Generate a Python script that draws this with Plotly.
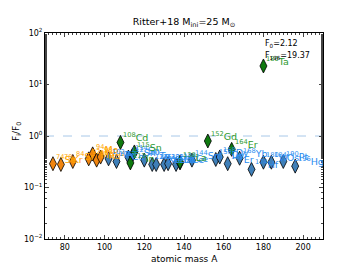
import plotly.graph_objects as go
import math

# orange group
orange_mass = [74, 78, 84, 92, 94, 96, 98]
orange_el = ["Se", "Kr", "Sr", "Mo", "Mo", "Ru", "Ru"]
orange_val = [0.29, 0.28, 0.32, 0.36, 0.45, 0.34, 0.39]

# blue group
blue_mass = [102, 106, 112, 114, 120, 124, 126, 130, 132, 136, 138, 144, 156, 158, 162, 168, 174, 180, 184, 190, 196]
blue_el = ["Pd", "Cd", "Sn", "Sn", "Te", "Xe", "Xe", "Ba", "Ba", "Ce", "Ce", "Sm", "Dy", "Dy", "Er", "Yb", "Hf", "W", "Os", "Pt", "Hg"]
blue_val = [0.36, 0.32, 0.39, 0.42, 0.34, 0.28, 0.28, 0.28, 0.29, 0.28, 0.30, 0.34, 0.35, 0.39, 0.29, 0.37, 0.225, 0.31, 0.31, 0.32, 0.26]

# green group
green_mass = [108, 113, 115, 138, 152, 164, 180]
green_el = ["Cd", "In", "Sn", "La", "Gd", "Er", "Ta"]
green_val = [0.75, 0.30, 0.49, 0.31, 0.80, 0.55, 22.9]

x_ticks = [80, 100, 120, 140, 160, 180, 200]
y_ticks = [0.01, 0.1, 1, 10, 100]
y_ticktext = ["10<sup>−2</sup>", "10<sup>−1</sup>", "10<sup>0</sup>", "10<sup>1</sup>", "10<sup>2</sup>"]

FONT = "DejaVu Sans"

groups = [
    (orange_mass, orange_el, orange_val, "#f0850f", "#ffa500"),
    (blue_mass, blue_el, blue_val, "#3f7fb8", "#2a8cf0"),
    (green_mass, green_el, green_val, "#0f7a0f", "#2e9a2e"),
]

W, H = 359, 269
L, R, T, B = 45, 36, 33, 30
pw, ph = W - L - R, H - T - B

def px(xp):
    return (xp - L) / pw

def py(yp):
    return (H - B - yp) / ph

fig = go.Figure()

fig.add_shape(type="line", xref="paper", x0=0, x1=1, yref="y", y0=1, y1=1,
              line=dict(color="#a8c8e8", width=1, dash="dash"), layer="below")

annotations = []
for mass, el, val, mcol, tcol in groups:
    fig.add_trace(go.Scatter(
        x=mass, y=val, mode="markers",
        marker=dict(symbol="diamond-tall", size=10, color=mcol,
                    line=dict(color="black", width=0.8)),
        showlegend=False, hoverinfo="skip"))
    for m, e, v in zip(mass, el, val):
        annotations.append(dict(
            x=m, y=math.log10(v), xref="x", yref="y",
            text=f"<sup>{m}</sup>{e}", showarrow=False,
            xanchor="left", yanchor="bottom", xshift=2, yshift=-2,
            borderpad=0, font=dict(family=FONT, size=9.5, color=tcol)))

annotations += [
    dict(x=px(263), y=py(44), xref="paper", yref="paper", text="F<sub>0</sub>=2.12",
         showarrow=False, xanchor="left", yanchor="middle",
         font=dict(family=FONT, size=8, color="black")),
    dict(x=px(263), y=py(56), xref="paper", yref="paper", text="F<sub>196</sub>=19.37",
         showarrow=False, xanchor="left", yanchor="middle",
         font=dict(family=FONT, size=8, color="black")),
    dict(x=px(184), y=py(259), xref="paper", yref="paper", text="atomic mass A",
         showarrow=False, xanchor="center", yanchor="middle",
         font=dict(family=FONT, size=9, color="black")),
    dict(x=px(16), y=py(132), xref="paper", yref="paper", text="F<sub>i</sub>/F<sub>0</sub>",
         showarrow=False, xanchor="center", yanchor="middle", textangle=-90,
         font=dict(family=FONT, size=9, color="black")),
]

fig.update_layout(
    width=W, height=H,
    margin=dict(l=L, r=R, t=T, b=B, autoexpand=False),
    paper_bgcolor="white", plot_bgcolor="white",
    font=dict(family=FONT, size=8, color="black"),
    title=dict(text="Ritter+18 M<sub>ini</sub>=25 M<sub>⊙</sub>", x=(L + pw / 2) / W, xanchor="center",
               y=1 - 22 / H, yanchor="middle", font=dict(family=FONT, size=9.5)),
    annotations=annotations,
    xaxis=dict(range=[70, 210], tickvals=x_ticks, ticks="inside", ticklen=4,
               showline=True, linecolor="black", linewidth=1, mirror="ticks",
               showgrid=False, zeroline=False, automargin=False,
               minor=dict(dtick=2, ticks="inside", ticklen=2, showgrid=False),
               tickfont=dict(family=FONT, size=8)),
    yaxis=dict(type="log", range=[-2, 2], tickvals=y_ticks, ticktext=y_ticktext,
               ticks="inside", ticklen=4,
               showline=True, linecolor="black", linewidth=1, mirror="ticks",
               showgrid=False, zeroline=False, automargin=False,
               minor=dict(ticks="inside", ticklen=2, showgrid=False),
               tickfont=dict(family=FONT, size=8)),
)

fig.write_html("out.html", config={"displayModeBar": False},
               post_script="document.body.style.margin='0';document.body.style.padding='0';")
